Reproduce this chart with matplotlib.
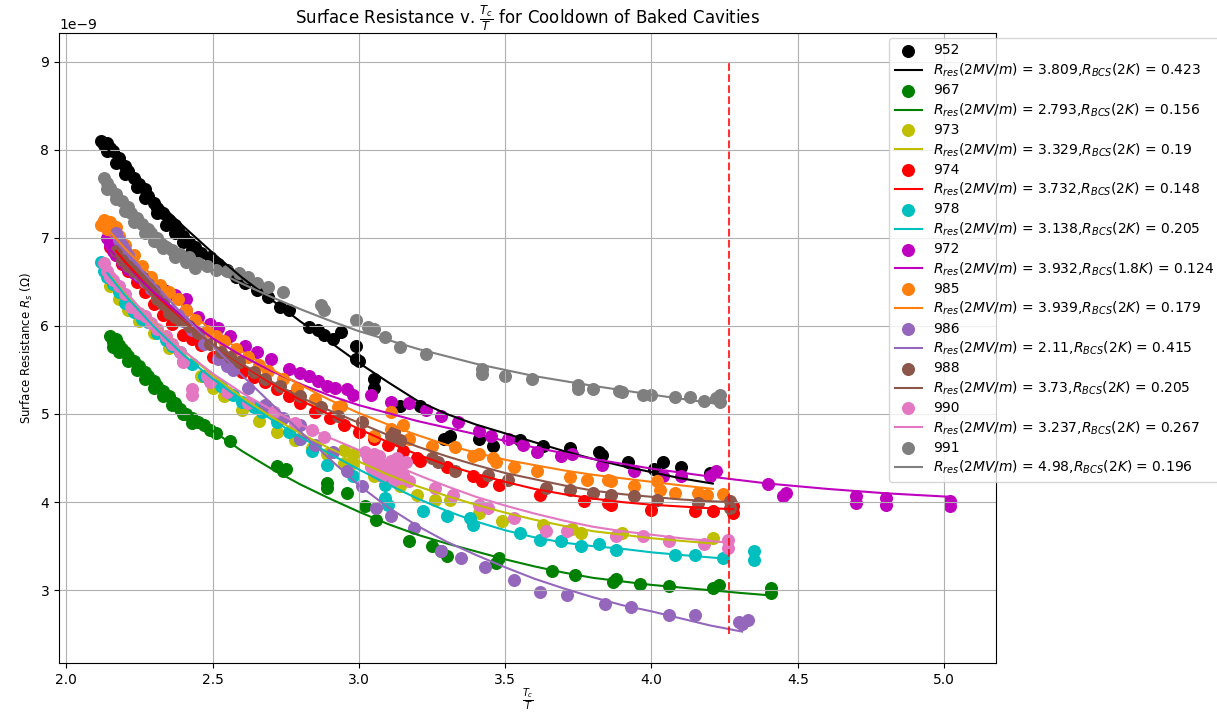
import numpy as np
import matplotlib
matplotlib.use("Agg")
import matplotlib.pyplot as plt

# measured points, x = Tc/T, y = Rs in nOhm
x_952 = [2.12, 2.13, 2.14, 2.15, 2.16, 2.18, 2.20, 2.21, 2.23, 2.25, 2.27, 2.28, 2.30, 2.31, 2.33, 2.35, 2.37, 2.38,
         2.40, 2.42, 2.44, 2.46, 2.49, 2.52, 2.55, 2.58, 2.61, 2.65, 2.69, 2.73, 2.76, 2.83, 2.86, 2.88, 2.91, 2.94,
         2.99, 2.99, 3.00, 3.05, 3.05, 3.14, 3.21, 3.29, 3.31, 3.41, 3.46, 3.55, 3.63, 3.72, 3.82, 3.83, 3.92, 4.01,
         4.04, 4.10, 4.20,
         2.14, 2.17, 2.20, 2.24, 2.27, 2.31, 2.34, 2.37, 2.40, 2.43]
y_952 = [8.10, 8.05, 8.08, 8.02, 7.98, 7.91, 7.82, 7.76, 7.68, 7.61, 7.55, 7.48, 7.40, 7.34, 7.28, 7.20, 7.14, 7.09,
         7.02, 6.95, 6.90, 6.83, 6.78, 6.70, 6.64, 6.56, 6.49, 6.41, 6.33, 6.22, 6.18, 5.99, 5.95, 5.90, 5.85, 5.93,
         5.77, 5.62, 5.60, 5.40, 5.30, 5.09, 5.09, 4.72, 4.75, 4.72, 4.64, 4.70, 4.64, 4.61, 4.57, 4.53, 4.46, 4.38,
         4.46, 4.40, 4.33,
         7.98, 7.85, 7.72, 7.58, 7.45, 7.28, 7.15, 7.05, 6.95, 6.86]

x_967 = [2.15, 2.16, 2.17, 2.18, 2.19, 2.20, 2.21, 2.23, 2.25, 2.27, 2.28, 2.30, 2.31, 2.33, 2.35, 2.37, 2.39, 2.41,
         2.43, 2.45, 2.47, 2.49, 2.51, 2.56, 2.72, 2.74, 2.75, 2.89, 2.89, 2.96, 3.02, 3.06, 3.17, 3.25, 3.28, 3.30,
         3.47, 3.48, 3.66, 3.74, 3.87, 3.88, 3.96, 4.06, 4.21, 4.23, 4.41, 4.41,
         2.16, 2.18, 2.21, 2.24, 2.27, 2.30, 2.33, 2.36, 2.40, 2.43]
y_967 = [5.88, 5.82, 5.85, 5.78, 5.74, 5.70, 5.66, 5.60, 5.54, 5.48, 5.43, 5.38, 5.32, 5.26, 5.20, 5.13, 5.06, 5.00,
         4.95, 4.91, 4.87, 4.82, 4.78, 4.69, 4.41, 4.35, 4.38, 4.16, 4.22, 4.10, 3.95, 3.80, 3.56, 3.50, 3.45, 3.39,
         3.31, 3.36, 3.22, 3.17, 3.09, 3.13, 3.07, 3.05, 3.03, 3.06, 2.97, 3.02,
         5.76, 5.70, 5.60, 5.50, 5.40, 5.30, 5.20, 5.10, 5.00, 4.90]

x_973 = [2.15, 2.18, 2.21, 2.25, 2.30, 2.35, 2.40, 2.46, 2.50, 2.54, 2.60, 2.66, 2.72, 2.78, 2.84, 2.89, 2.95, 2.95,
         2.98, 2.98, 3.05, 3.14, 3.20, 3.26, 3.31, 3.41, 3.49, 3.63, 3.73, 3.76, 3.90, 4.21]
y_973 = [6.45, 6.30, 6.18, 6.05, 5.92, 5.75, 5.60, 5.43, 5.30, 5.20, 5.05, 4.92, 4.80, 4.70, 4.61, 4.55, 4.59, 4.44,
         4.55, 4.44, 4.30, 4.18, 4.08, 4.02, 4.02, 3.88, 3.79, 3.74, 3.69, 3.65, 3.65, 3.59]

x_974 = [2.15, 2.17, 2.19, 2.21, 2.24, 2.27, 2.30, 2.33, 2.36, 2.40, 2.43, 2.46, 2.50, 2.55, 2.60, 2.64, 2.68, 2.72,
         2.76, 2.80, 2.85, 2.90, 2.95, 3.00, 3.05, 3.10, 3.15, 3.20, 3.21, 3.30, 3.39, 3.42, 3.48, 3.62, 3.77, 3.85,
         3.86, 4.00, 4.15, 4.21, 4.28, 4.28]
y_974 = [6.90, 6.80, 6.70, 6.62, 6.50, 6.38, 6.25, 6.12, 6.02, 5.90, 5.85, 5.78, 5.65, 5.57, 5.48, 5.42, 5.36, 5.28,
         5.20, 5.12, 5.02, 4.95, 4.88, 4.80, 4.72, 4.65, 4.58, 4.50, 4.47, 4.40, 4.30, 4.24, 4.19, 4.08, 4.01, 3.99,
         3.97, 3.91, 3.90, 3.90, 3.88, 3.95]

x_978 = [2.12, 2.13, 2.14, 2.16, 2.18, 2.20, 2.23, 2.26, 2.28, 2.31, 2.34, 2.36, 2.39, 2.43, 2.47, 2.50, 2.53, 2.57,
         2.60, 2.64, 2.67, 2.72, 2.76, 2.80, 2.84, 2.89, 2.98, 3.09, 3.09, 3.10, 3.22, 3.30, 3.38, 3.39, 3.55, 3.62,
         3.69, 3.76, 3.82, 3.88, 4.08, 4.15, 4.245, 4.35, 4.35]
y_978 = [6.72, 6.62, 6.55, 6.48, 6.38, 6.26, 6.16, 6.08, 6.04, 5.92, 5.84, 5.77, 5.70, 5.57, 5.43, 5.38, 5.32, 5.22,
         5.14, 5.08, 5.02, 4.91, 4.80, 4.72, 4.58, 4.42, 4.30, 4.19, 4.05, 3.97, 3.90, 3.84, 3.82, 3.74, 3.65, 3.57,
         3.56, 3.50, 3.52, 3.46, 3.40, 3.40, 3.37, 3.45, 3.34]

x_972 = [2.14, 2.15, 2.16, 2.17, 2.19, 2.21, 2.23, 2.25, 2.28, 2.31, 2.34, 2.37, 2.41, 2.41, 2.45, 2.49, 2.52, 2.56,
         2.61, 2.65, 2.70, 2.76, 2.80, 2.83, 2.86, 2.89, 2.92, 2.96, 2.98, 3.04, 3.11, 3.17, 3.23, 3.28, 3.34, 3.41,
         3.45, 3.51, 3.56, 3.61, 3.69, 3.73, 3.83, 3.94, 4.04, 4.10, 4.20, 4.22, 4.40, 4.45, 4.46, 4.70, 4.70, 4.80,
         4.80, 5.02, 5.02]
y_972 = [7.00, 6.92, 6.85, 6.80, 6.72, 6.65, 6.60, 6.55, 6.50, 6.45, 6.40, 6.35, 6.30, 6.18, 6.10, 6.02, 5.98, 5.88,
         5.77, 5.70, 5.62, 5.51, 5.47, 5.43, 5.38, 5.32, 5.30, 5.28, 5.21, 5.21, 5.14, 5.12, 5.05, 4.98, 4.91, 4.81,
         4.75, 4.72, 4.65, 4.57, 4.52, 4.55, 4.42, 4.35, 4.30, 4.30, 4.30, 4.35, 4.21, 4.07, 4.10, 4.07, 3.99, 4.05,
         3.97, 4.01, 3.95]

x_985 = [2.12, 2.13, 2.14, 2.15, 2.16, 2.17, 2.18, 2.20, 2.23, 2.26, 2.29, 2.32, 2.35, 2.38, 2.41, 2.44, 2.48, 2.51,
         2.54, 2.58, 2.62, 2.66, 2.69, 2.74, 2.79, 2.85, 2.93, 2.94, 3.01, 3.05, 3.11, 3.11, 3.15, 3.17, 3.25, 3.33,
         3.39, 3.41, 3.46, 3.47, 3.53, 3.61, 3.72, 3.78, 3.85, 3.86, 3.94, 4.02, 4.03, 4.08, 4.16, 4.19, 4.245]
y_985 = [7.15, 7.20, 7.10, 7.18, 7.08, 7.12, 7.02, 6.92, 6.80, 6.68, 6.56, 6.46, 6.38, 6.30, 6.18, 6.07, 5.94, 5.88,
         5.83, 5.74, 5.65, 5.56, 5.49, 5.40, 5.30, 5.17, 5.08, 5.09, 4.91, 4.75, 5.02, 4.83, 4.87, 4.72, 4.64, 4.63,
         4.52, 4.55, 4.50, 4.46, 4.40, 4.35, 4.29, 4.25, 4.25, 4.24, 4.18, 4.24, 4.14, 4.10, 4.10, 4.08, 4.09]

x_986 = [2.17, 2.18, 2.19, 2.20, 2.21, 2.22, 2.23, 2.25, 2.27, 2.29, 2.31, 2.33, 2.35, 2.38, 2.40, 2.43, 2.47, 2.52,
         2.55, 2.57, 2.62, 2.68, 2.74, 2.80, 2.80, 2.85, 2.91, 2.96, 3.01, 3.06, 3.11, 3.19, 3.28, 3.35, 3.43, 3.53,
         3.62, 3.71, 3.84, 3.93, 4.06, 4.15, 4.30, 4.31, 4.33]
y_986 = [7.05, 6.98, 6.92, 6.86, 6.80, 6.72, 6.66, 6.58, 6.50, 6.42, 6.34, 6.26, 6.18, 6.12, 6.05, 5.95, 5.80, 5.62,
         5.55, 5.50, 5.30, 5.10, 4.95, 4.87, 4.72, 4.65, 4.57, 4.35, 4.18, 3.93, 3.84, 3.71, 3.45, 3.37, 3.26, 3.12,
         2.98, 2.95, 2.84, 2.81, 2.72, 2.72, 2.64, 2.62, 2.66]

x_988 = [2.17, 2.19, 2.21, 2.23, 2.26, 2.28, 2.30, 2.31, 2.33, 2.35, 2.37, 2.39, 2.42, 2.45, 2.49, 2.53, 2.56, 2.59,
         2.64, 2.68, 2.73, 2.80, 2.87, 2.93, 3.01, 3.11, 3.12, 3.14, 3.14, 3.25, 3.27, 3.33, 3.44, 3.51, 3.64, 3.72,
         3.80, 3.86, 3.94, 4.02, 4.16, 4.27, 4.27]
y_988 = [6.85, 6.75, 6.68, 6.62, 6.56, 6.48, 6.41, 6.30, 6.25, 6.15, 6.10, 6.07, 6.00, 5.92, 5.80, 5.70, 5.65, 5.59,
         5.48, 5.40, 5.32, 5.20, 5.08, 4.98, 4.91, 4.75, 4.80, 4.69, 4.70, 4.50, 4.46, 4.35, 4.31, 4.25, 4.16, 4.14,
         4.10, 4.08, 4.07, 4.02, 3.99, 4.01, 3.93]

x_990 = [2.13, 2.14, 2.15, 2.16, 2.18, 2.20, 2.22, 2.25, 2.27, 2.29, 2.31, 2.34, 2.36, 2.39, 2.40, 2.43, 2.43, 2.48,
         2.49, 2.55, 2.62, 2.71, 2.78, 2.84, 2.88, 3.02, 3.04, 3.06, 3.08, 3.10, 3.12, 3.14, 3.17, 3.05, 3.09, 3.13,
         3.26, 3.32, 3.41, 3.44, 3.53, 3.64, 3.71, 3.88, 3.97, 4.06, 4.18, 4.26, 4.26,
         3.03, 3.05, 3.07, 3.09, 3.11, 3.13, 3.15, 3.16, 3.04, 3.08, 3.12]
y_990 = [6.71, 6.62, 6.55, 6.52, 6.45, 6.36, 6.22, 6.15, 6.11, 6.03, 5.96, 5.88, 5.80, 5.70, 5.59, 5.28, 5.22, 5.43,
         5.36, 5.25, 5.12, 5.02, 4.90, 4.82, 4.74, 4.57, 4.50, 4.46, 4.40, 4.36, 4.30, 4.27, 4.24, 4.35, 4.42, 4.50,
         4.16, 4.08, 3.97, 3.93, 3.82, 3.67, 3.67, 3.62, 3.62, 3.56, 3.52, 3.48, 3.57,
         4.50, 4.55, 4.52, 4.35, 4.47, 4.38, 4.32, 4.45, 4.40, 4.30, 4.25]

x_991 = [2.13, 2.14, 2.15, 2.17, 2.19, 2.21, 2.22, 2.24, 2.26, 2.28, 2.29, 2.31, 2.32, 2.34, 2.36, 2.39, 2.42, 2.45,
         2.48, 2.51, 2.55, 2.59, 2.62, 2.65, 2.69, 2.74, 2.87, 2.88, 2.99, 3.03, 3.05, 3.09, 3.14, 3.23, 3.42, 3.42,
         3.50, 3.59, 3.75, 3.75, 3.80, 3.89, 3.90, 3.97, 4.00, 4.08, 4.13, 4.18, 4.235, 4.235, 4.22,
         2.14, 2.17, 2.20, 2.23, 2.27, 2.30, 2.33, 2.37, 2.41, 2.44]
y_991 = [7.68, 7.62, 7.57, 7.50, 7.42, 7.35, 7.28, 7.22, 7.16, 7.10, 7.05, 7.00, 6.94, 6.90, 6.86, 6.82, 6.78, 6.71,
         6.68, 6.64, 6.62, 6.60, 6.55, 6.49, 6.44, 6.39, 6.24, 6.18, 6.07, 5.99, 5.96, 5.87, 5.76, 5.68, 5.51, 5.45,
         5.43, 5.40, 5.28, 5.33, 5.28, 5.26, 5.25, 5.21, 5.21, 5.19, 5.19, 5.15, 5.14, 5.21, 5.18,
         7.55, 7.44, 7.30, 7.18, 7.05, 6.96, 6.88, 6.78, 6.72, 6.66]

# fitted curves
fx_952 = [2.13, 2.2, 2.3, 2.4, 2.5, 2.6, 2.7, 2.8, 2.9, 3.0, 3.1, 3.2, 3.3, 3.4, 3.5, 3.6, 3.7, 3.8, 3.9, 4.0, 4.1, 4.21]
fy_952 = [8.05, 7.78, 7.45, 7.13, 6.83, 6.55, 6.30, 6.05, 5.82, 5.58, 5.36, 5.15, 5.00, 4.88, 4.78, 4.68, 4.58, 4.49,
          4.41, 4.34, 4.27, 4.21]
fx_967 = [2.15, 2.2, 2.3, 2.4, 2.5, 2.6, 2.7, 2.8, 2.9, 3.0, 3.1, 3.2, 3.3, 3.4, 3.5, 3.6, 3.7, 3.8, 3.9, 4.0, 4.1, 4.2,
          4.3, 4.41]
fy_967 = [5.85, 5.68, 5.36, 5.07, 4.81, 4.58, 4.38, 4.20, 4.04, 3.89, 3.75, 3.63, 3.53, 3.44, 3.35, 3.27, 3.20, 3.14,
          3.10, 3.06, 3.03, 3.00, 2.97, 2.94]
fx_973 = [2.16, 2.2, 2.3, 2.4, 2.5, 2.6, 2.7, 2.8, 2.9, 3.0, 3.1, 3.2, 3.3, 3.4, 3.5, 3.6, 3.7, 3.8, 3.9, 4.0, 4.1, 4.21]
fy_973 = [6.55, 6.38, 6.03, 5.72, 5.44, 5.19, 4.97, 4.78, 4.61, 4.46, 4.31, 4.18, 4.07, 3.97, 3.88, 3.80, 3.73, 3.67,
          3.63, 3.59, 3.56, 3.53]
fx_974 = [2.17, 2.2, 2.3, 2.4, 2.5, 2.6, 2.7, 2.8, 2.9, 3.0, 3.1, 3.2, 3.3, 3.4, 3.5, 3.6, 3.7, 3.8, 3.9, 4.0, 4.1, 4.2,
          4.28]
fy_974 = [6.85, 6.73, 6.37, 6.05, 5.79, 5.56, 5.35, 5.16, 4.99, 4.83, 4.68, 4.54, 4.42, 4.32, 4.23, 4.15, 4.09, 4.04,
          4.00, 3.97, 3.95, 3.93, 3.92]
fx_978 = [2.14, 2.2, 2.3, 2.4, 2.5, 2.6, 2.7, 2.8, 2.9, 3.0, 3.1, 3.2, 3.3, 3.4, 3.5, 3.6, 3.7, 3.8, 3.9, 4.0, 4.1, 4.245]
fy_978 = [6.60, 6.35, 5.99, 5.67, 5.40, 5.16, 4.94, 4.74, 4.55, 4.37, 4.20, 4.04, 3.90, 3.78, 3.68, 3.60, 3.54, 3.50,
          3.47, 3.43, 3.40, 3.36]
fx_972 = [2.14, 2.2, 2.3, 2.4, 2.5, 2.6, 2.7, 2.8, 2.9, 3.0, 3.2, 3.4, 3.6, 3.8, 4.0, 4.2, 4.4, 4.6, 4.8, 5.02]
fy_972 = [6.90, 6.68, 6.38, 6.10, 5.86, 5.66, 5.49, 5.34, 5.21, 5.10, 4.92, 4.77, 4.62, 4.49, 4.38, 4.29, 4.21, 4.15,
          4.10, 4.06]
fx_985 = [2.14, 2.2, 2.3, 2.4, 2.5, 2.6, 2.7, 2.8, 2.9, 3.0, 3.1, 3.2, 3.3, 3.4, 3.5, 3.6, 3.7, 3.8, 3.9, 4.0, 4.1, 4.21]
fy_985 = [7.10, 6.88, 6.55, 6.22, 5.94, 5.71, 5.51, 5.33, 5.16, 5.01, 4.88, 4.76, 4.65, 4.56, 4.48, 4.42, 4.36, 4.31,
          4.27, 4.23, 4.19, 4.15]
fx_986 = [2.17, 2.2, 2.3, 2.4, 2.5, 2.6, 2.7, 2.8, 2.9, 3.0, 3.1, 3.2, 3.3, 3.4, 3.5, 3.6, 3.7, 3.8, 3.9, 4.0, 4.1, 4.2,
          4.31]
fy_986 = [6.95, 6.84, 6.48, 6.12, 5.78, 5.44, 5.12, 4.80, 4.49, 4.19, 3.94, 3.73, 3.55, 3.40, 3.26, 3.13, 3.02, 2.92,
          2.83, 2.76, 2.68, 2.60, 2.53]
fx_988 = [2.17, 2.2, 2.3, 2.4, 2.5, 2.6, 2.7, 2.8, 2.9, 3.0, 3.1, 3.2, 3.3, 3.4, 3.5, 3.6, 3.7, 3.8, 3.9, 4.0, 4.1, 4.2,
          4.28]
fy_988 = [6.80, 6.68, 6.33, 6.04, 5.79, 5.57, 5.37, 5.19, 5.04, 4.90, 4.76, 4.63, 4.52, 4.42, 4.33, 4.26, 4.19, 4.13,
          4.09, 4.06, 4.03, 4.01, 4.00]
fx_990 = [2.14, 2.2, 2.3, 2.4, 2.5, 2.6, 2.7, 2.8, 2.9, 3.0, 3.1, 3.2, 3.3, 3.4, 3.5, 3.6, 3.7, 3.8, 3.9, 4.0, 4.1, 4.26]
fy_990 = [6.65, 6.40, 6.02, 5.72, 5.46, 5.24, 5.05, 4.88, 4.73, 4.59, 4.45, 4.31, 4.18, 4.06, 3.96, 3.87, 3.79, 3.72,
          3.67, 3.63, 3.59, 3.54]
fx_991 = [2.14, 2.2, 2.3, 2.4, 2.5, 2.6, 2.7, 2.8, 2.9, 3.0, 3.2, 3.4, 3.6, 3.8, 4.0, 4.235]
fy_991 = [7.62, 7.38, 7.06, 6.83, 6.64, 6.48, 6.33, 6.19, 6.06, 5.94, 5.74, 5.57, 5.43, 5.32, 5.22, 5.11]

cavities = ["952", "967", "973", "974", "978", "972", "985", "986", "988", "990", "991"]
colors = ["k", "g", "y", "r", "c", "m", "tab:orange", "tab:purple", "tab:brown", "tab:pink", "tab:gray"]
r_res = ["3.809", "2.793", "3.329", "3.732", "3.138", "3.932", "3.939", "2.11", "3.73", "3.237", "4.98"]
r_bcs = ["0.423", "0.156", "0.19", "0.148", "0.205", "0.124", "0.179", "0.415", "0.205", "0.267", "0.196"]
t_bcs = ["2K", "2K", "2K", "2K", "2K", "1.8K", "2K", "2K", "2K", "2K", "2K"]

points = {"952": (x_952, y_952), "967": (x_967, y_967), "973": (x_973, y_973), "974": (x_974, y_974),
          "978": (x_978, y_978), "972": (x_972, y_972), "985": (x_985, y_985), "986": (x_986, y_986),
          "988": (x_988, y_988), "990": (x_990, y_990), "991": (x_991, y_991)}
fits = {"952": (fx_952, fy_952), "967": (fx_967, fy_967), "973": (fx_973, fy_973), "974": (fx_974, fy_974),
        "978": (fx_978, fy_978), "972": (fx_972, fy_972), "985": (fx_985, fy_985), "986": (fx_986, fy_986),
        "988": (fx_988, fy_988), "990": (fx_990, fy_990), "991": (fx_991, fy_991)}

cutoff_x = 4.265
cutoff_y = [2.5, 9.0]

fig = plt.figure(figsize=(12.17, 7.12), dpi=100)
ax = fig.add_axes([0.0485, 0.0690, 0.770, 0.8847])

for cav, col, rr, rb, tb in zip(cavities, colors, r_res, r_bcs, t_bcs):
    px, py = points[cav]
    ax.scatter(px, np.array(py) * 1e-9, color=col, s=70, label=cav)
    fx, fy = fits[cav]
    lab = r"$R_{res}(2MV/m)$ = " + rr + r",$R_{BCS}(" + tb + ")$ = " + rb
    ax.plot(fx, np.array(fy) * 1e-9, color=col, lw=1.5, label=lab)

ax.plot([cutoff_x, cutoff_x], np.array(cutoff_y) * 1e-9, "r--", alpha=0.8)

ax.set_xlim(1.975, 5.178)
ax.set_ylim(2.175e-9, 9.325e-9)
ax.grid(True)
ax.set_title(r"Surface Resistance v. $\frac{T_c}{T}$ for Cooldown of Baked Cavities")
ax.set_xlabel(r"$\frac{T_c}{T}$", labelpad=0)
ax.set_ylabel(r"Surface Resistance $R_s$ ($\Omega$)", fontsize=8.5)
ax.legend(loc="upper left", bbox_to_anchor=(882 / 1217, 1 - 31 / 712), bbox_transform=fig.transFigure,
          fontsize=10, labelspacing=0.3)

fig.savefig("out.png", dpi=100)
